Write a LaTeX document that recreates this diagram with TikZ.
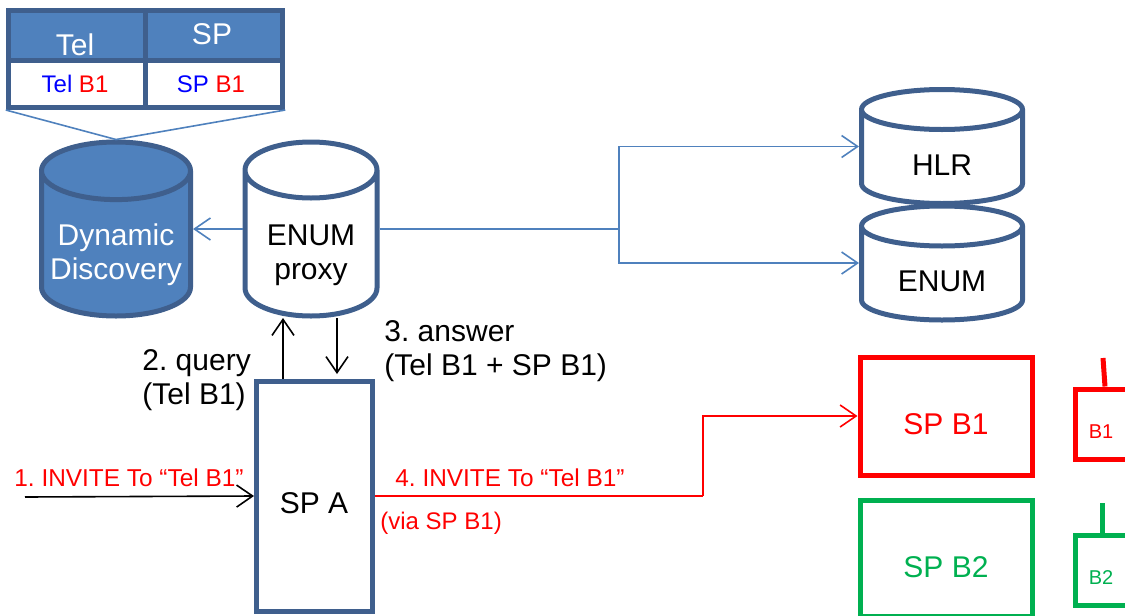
\documentclass[tikz,border=0pt]{standalone}
\usepackage{fontspec}
\setmainfont{Liberation Sans}
\usepackage{tikz}
\usetikzlibrary{arrows.meta,shapes.geometric}

\definecolor{blueline}{HTML}{3F5F8D}
\definecolor{bluefill}{HTML}{4F81BD}
\definecolor{spgreen}{HTML}{00B050}
\tikzset{
  >={Straight Barb[length=8pt,width=11pt,line width=.8pt]},
  db/.style={cylinder,shape border rotate=90,anchor=shape center,draw=blueline,line width=2.5pt,inner sep=0pt,
    text width=40pt,text height=20pt,text depth=0pt},
  cell/.style={rectangle,draw=blueline,line width=2.5pt,minimum width=137.5*.5pt,inner sep=0pt},
  box/.style={rectangle,line width=2.5pt,inner sep=0pt},
  big/.style={font=\fontsize{15}{17}\selectfont,inner sep=0pt},
  small/.style={font=\fontsize{12.2}{14}\selectfont,inner sep=0pt},
  link/.style={->,draw=bluefill,line width=.8pt},
  msg/.style={->,draw=black,line width=.8pt},
  redmsg/.style={->,draw=red,line width=.8pt}
}

\begin{document}
\frenchspacing
\begin{tikzpicture}[x=.5pt,y=-.5pt]
  \useasboundingbox (0,0) rectangle (1125,616);
  \clip (0,0) rectangle (1125,616);

  \node[cell,fill=bluefill,minimum height=25pt] (telhead) at (77,35) {};
  \node[cell,fill=bluefill,minimum height=25pt] (sphead) at (214,35) {};
  \node[cell,minimum height=23.5pt] (telval) at (77,84) {};
  \node[cell,minimum height=23.5pt] (spval) at (214,84) {};
  \node[big,white] (teltext) at (75,45) {Tel};
  \node[big,white] (sptext) at (212,34) {SP};
  \node[font=\fontsize{12}{14}\selectfont,inner sep=0pt] (telb) at (75,84) {\textcolor{blue}{Tel} \textcolor{red}{B1}};
  \node[font=\fontsize{12}{14}\selectfont,inner sep=0pt] (spb) at (211,84) {\textcolor{blue}{SP} \textcolor{red}{B1}};

  \node[db,fill=bluefill,minimum width=74.5pt,minimum height=87pt,shape aspect=.72] (disc) at (116,229) {};
  \node[db,minimum width=66pt,minimum height=87pt,shape aspect=.7] (proxy) at (311,229) {};
  \node[db,minimum width=80.5pt,minimum height=57pt,shape aspect=.5] (hlr) at (942,146.5) {};
  \node[db,minimum width=80.5pt,minimum height=57pt,shape aspect=.5] (enumdb) at (942,263) {};
  \node[big,white,align=center] (disctext) at (116,255) {Dynamic\\Discovery};
  \node[big,align=center] (proxytext) at (311,255) {ENUM\\proxy};
  \node[big] (hlrtext) at (942,165) {HLR};
  \node[big] (enumtext) at (942,281) {ENUM};

  \node[box,draw=blueline,minimum width=58pt,minimum height=115pt] (spa) at (314.5,496) {};
  \node[big] (spatext) at (314,503) {SP A};
  \node[box,draw=red,minimum width=86pt,minimum height=59pt] (spbone) at (946,416) {};
  \node[big,red] (spbonetext) at (946,424) {SP B1};
  \node[box,draw=spgreen,minimum width=86pt,minimum height=58pt] (spbtwo) at (946,558) {};
  \node[big,spgreen] (spbtwotext) at (946,567) {SP B2};
  \node[box,draw=red,minimum width=30pt,minimum height=35pt] (bone) at (1105,424) {};
  \node[font=\fontsize{10}{12}\selectfont,red,inner sep=0pt] (bonetext) at (1101,432) {B1};
  \node[box,draw=spgreen,minimum width=30pt,minimum height=35pt] (btwo) at (1105,570) {};
  \node[font=\fontsize{10}{12}\selectfont,spgreen,inner sep=0pt] (btwotext) at (1101,578) {B2};

  \node[big,anchor=west,align=left] (query) at (142,380) {2. query\\(Tel B1)};
  \node[big,anchor=west,align=left] (answer) at (384,351) {3. answer\\(Tel B1 + SP B1)};
  \node[small,red,anchor=west] (inviteone) at (14,478) {1. INVITE To “Tel B1”};
  \node[small,red,anchor=west] (invitefour) at (395,478) {4. INVITE To “Tel B1”};
  \node[font=\fontsize{12}{14}\selectfont,inner sep=0pt,red,anchor=west] (via) at (380,523) {(via SP B1)};

  \coordinate (split) at (619,229);
  \coordinate (turn) at (703,496);
  \coordinate (caller) at (25,497);
  \coordinate (queryend) at (283,318);
  \coordinate (answerstart) at (337,318);
  \coordinate (answerend) at (337,374);
  \coordinate (stemone) at (1103,358);
  \coordinate (stemtwo) at (1102,503);

  \foreach \from/\to in {telval.south west/disc.north,spval.south east/disc.north}
    \draw[draw=bluefill,line width=.8pt] (\from) -- (\to);

  \draw[link] (proxy.west |- proxy.shape center) -- (disc.east |- proxy.shape center);
  \draw[draw=bluefill,line width=.8pt] (proxy.east |- split) -- (split);
  \draw[link] (split) |- (hlr.west |- hlr.shape center);
  \draw[link] (split) |- (enumdb.west |- enumdb.shape center);

  \draw[msg] (spa.north -| queryend) -- (queryend);
  \draw[msg] (answerstart) -- (answerend);
  \draw[msg] (caller) -- (spa.west);
  \draw[draw=red,line width=.8pt] (spa.east) -- (turn);
  \draw[redmsg] (turn) |- (spbone.west);

  \draw[draw=red,line width=2.5pt] (stemone) -- (bone.north -| 1105,0);
  \draw[draw=spgreen,line width=2.5pt] (stemtwo) -- (btwo.north -| stemtwo);
\end{tikzpicture}
\end{document}
